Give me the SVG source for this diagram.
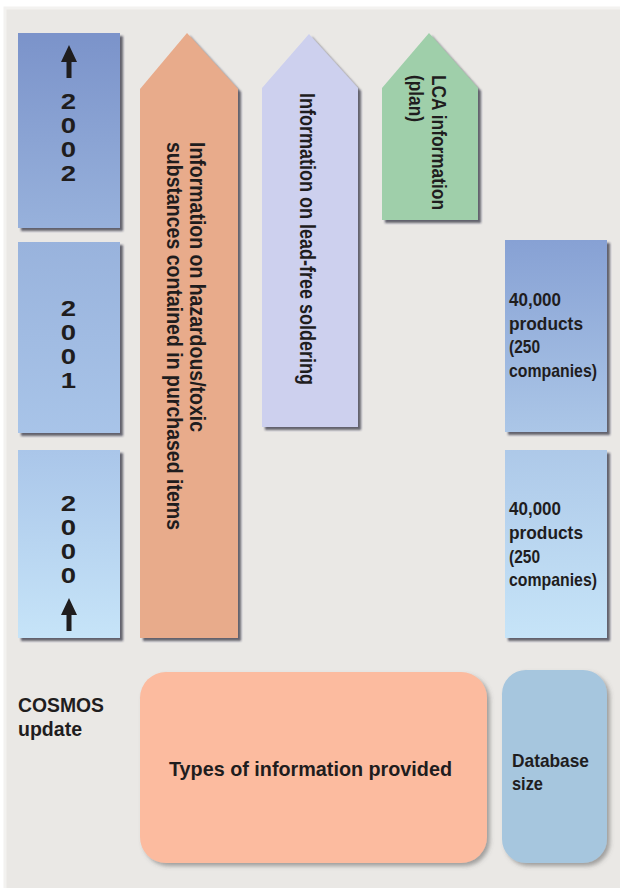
<svg xmlns="http://www.w3.org/2000/svg" width="620" height="888" viewBox="0 0 620 888">
<defs>
<linearGradient id="gYear" gradientUnits="userSpaceOnUse" x1="0" y1="33" x2="0" y2="638">
<stop offset="0" stop-color="#7b93ca"/>
<stop offset="0.33" stop-color="#98b2dc"/>
<stop offset="0.68" stop-color="#a9c5e9"/>
<stop offset="1" stop-color="#c6e4f8"/>
</linearGradient>
<linearGradient id="gDb" gradientUnits="userSpaceOnUse" x1="0" y1="240" x2="0" y2="638">
<stop offset="0" stop-color="#87a1d4"/>
<stop offset="0.48" stop-color="#abc6e7"/>
<stop offset="1" stop-color="#c6e4f8"/>
</linearGradient>
<filter id="sh" x="-10%" y="-10%" width="130%" height="130%">
<feDropShadow dx="3" dy="3" stdDeviation="1.3" flood-color="#2a2a3a" flood-opacity="0.7"/>
</filter>
<filter id="sh2" x="-10%" y="-10%" width="130%" height="130%">
<feDropShadow dx="3" dy="3" stdDeviation="2" flood-color="#555" flood-opacity="0.5"/>
</filter>
</defs>
<style>
text { font-family: "Liberation Sans", Arial, sans-serif; font-weight: bold; fill: #1f1d1e; }
.d { font-size: 22px; text-anchor: middle; }
.r { font-size: 22px; }
.g { font-size: 21px; }
.b { font-size: 19px; }
.l { font-size: 21px; }
</style>
<rect x="0" y="0" width="620" height="888" fill="#ffffff"/>
<rect x="5" y="8" width="617" height="884" fill="#eae8e5" stroke="#f3f2f0" stroke-width="3"/>

<g id="year2002">
<rect x="18" y="33" width="102" height="195" fill="url(#gYear)" filter="url(#sh)"/>
<path d="M61,62 L69,45 L77,62 L71.5,62 L71.5,78 L66.5,78 L66.5,62 Z" fill="#1f1d1e"/>
<text class="d" transform="translate(68.5,109) scale(1.25,1)">2</text>
<text class="d" transform="translate(68.5,133) scale(1.25,1)">0</text>
<text class="d" transform="translate(68.5,157) scale(1.25,1)">0</text>
<text class="d" transform="translate(68.5,181) scale(1.25,1)">2</text>
</g>
<g id="year2001">
<rect x="18" y="242" width="102" height="191" fill="url(#gYear)" filter="url(#sh)"/>
<text class="d" transform="translate(68.5,316) scale(1.25,1)">2</text>
<text class="d" transform="translate(68.5,340) scale(1.25,1)">0</text>
<text class="d" transform="translate(68.5,364) scale(1.25,1)">0</text>
<text class="d" transform="translate(68.5,388) scale(1.25,1)">1</text>
</g>
<g id="year2000">
<rect x="18" y="450" width="102" height="188" fill="url(#gYear)" filter="url(#sh)"/>
<text class="d" transform="translate(68.5,511) scale(1.25,1)">2</text>
<text class="d" transform="translate(68.5,535) scale(1.25,1)">0</text>
<text class="d" transform="translate(68.5,559) scale(1.25,1)">0</text>
<text class="d" transform="translate(68.5,583) scale(1.25,1)">0</text>
<path d="M61,615 L69,598 L77,615 L71.5,615 L71.5,631 L66.5,631 L66.5,615 Z" fill="#1f1d1e"/>
</g>

<g id="hazardous">
<path d="M140,89 L187,33 L238,89 L238,638 L140,638 Z" fill="#e8ab8b" filter="url(#sh)"/>
<text class="r" transform="translate(190,142) rotate(90)" textLength="290" lengthAdjust="spacingAndGlyphs">Information on hazardous/toxic</text>
<text class="r" transform="translate(167,142) rotate(90)" textLength="388" lengthAdjust="spacingAndGlyphs">substances contained in purchased items</text>
</g>
<g id="leadfree">
<path d="M262,88 L309,34 L358,88 L358,427 L262,427 Z" fill="#cdd0ee" filter="url(#sh)"/>
<text class="r" transform="translate(300,93) rotate(90)" textLength="292" lengthAdjust="spacingAndGlyphs">Information on lead-free soldering</text>
</g>
<g id="lca">
<path d="M382,88 L429,33 L478,88 L478,220 L382,220 Z" fill="#9fcfaa" filter="url(#sh)"/>
<text class="g" transform="translate(432,75) rotate(90)" textLength="135" lengthAdjust="spacingAndGlyphs">LCA information</text>
<text class="g" transform="translate(409,75) rotate(90)" textLength="47" lengthAdjust="spacingAndGlyphs">(plan)</text>
</g>

<g id="db2001">
<rect x="505" y="240" width="102" height="192" fill="url(#gDb)" filter="url(#sh)"/>
<text class="b" x="509" y="306" textLength="52" lengthAdjust="spacingAndGlyphs">40,000</text>
<text class="b" x="509" y="329.5" textLength="74" lengthAdjust="spacingAndGlyphs">products</text>
<text class="b" x="509" y="353" textLength="31" lengthAdjust="spacingAndGlyphs">(250</text>
<text class="b" x="509" y="376.5" textLength="88" lengthAdjust="spacingAndGlyphs">companies)</text>
</g>
<g id="db2000">
<rect x="505" y="450" width="102" height="188" fill="url(#gDb)" filter="url(#sh)"/>
<text class="b" x="509" y="515" textLength="52" lengthAdjust="spacingAndGlyphs">40,000</text>
<text class="b" x="509" y="539" textLength="74" lengthAdjust="spacingAndGlyphs">products</text>
<text class="b" x="509" y="562.5" textLength="31" lengthAdjust="spacingAndGlyphs">(250</text>
<text class="b" x="509" y="586" textLength="88" lengthAdjust="spacingAndGlyphs">companies)</text>
</g>

<g id="cosmos">
<text class="l" x="18" y="712" textLength="86" lengthAdjust="spacingAndGlyphs">COSMOS</text>
<text class="l" x="18" y="736" textLength="64" lengthAdjust="spacingAndGlyphs">update</text>
</g>
<g id="types">
<rect x="140" y="672" width="347" height="191" rx="26" ry="26" fill="#fcbb9f" filter="url(#sh2)"/>
<text class="l" x="169" y="776" textLength="283" lengthAdjust="spacingAndGlyphs">Types of information provided</text>
</g>
<g id="dbsize">
<rect x="502" y="670" width="105" height="193" rx="24" ry="24" fill="#a6c6de" filter="url(#sh2)"/>
<text class="b" x="512" y="767" textLength="77" lengthAdjust="spacingAndGlyphs">Database</text>
<text class="b" x="512" y="790" textLength="31" lengthAdjust="spacingAndGlyphs">size</text>
</g>
<g id="connectors"/>
</svg>
